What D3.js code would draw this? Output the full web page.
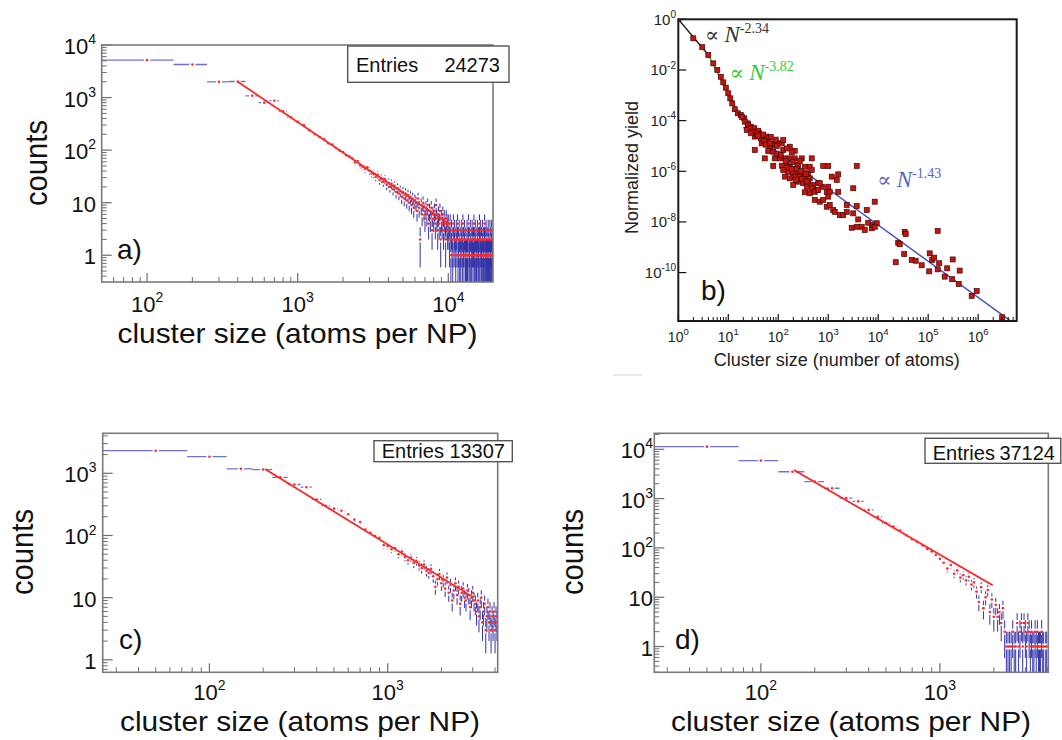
<!DOCTYPE html>
<html>
<head>
<meta charset="utf-8">
<script src="https://cdn.jsdelivr.net/npm/d3@7"></script>
<style>
  body { margin: 0; background: #fff; }
  svg { display: block; }
</style>
</head>
<body>
<script>
// ---------- data ----------

// panel a: linear bins of 100 atoms starting at 50
const countsA = [5150,4260,1990,2020,1080,800,870,550,420,345,
  300,238,200,178,160,135,128,110,98,92,
  80,76,70,58,62,51,48,44,47,40,
  36,35,31,34,27,29,25,28,22,24,
  20,23,18,21,16,19,15,17,13,16,
  12,15,11,14,10,13,9,12,8,11,
  10,7,12,8,2,9,6,10,7,5,
  8,6,9,4,7,5,8,3,6,5,
  7,4,9,5,3,6,4,7,2,5,
  4,6,3,5,4,2,5,4,3,4,
  3,2,4,1,3,2,1,4,2,3, 2,1,3,2,4,1,2,3,1,2, 1,3,2,1,4,2,1,3,2,1,
  2,1,3,1,2,4,1,2,1,3, 1,2,1,3,2,1,2,4,1,2, 3,1,2,1,1,3,2,1,2,1,
  4,1,2,3,1,2,1,1,3,2, 1,2,1,4,1,2,1,3,1,2, 1,1,2,3,1,2,1,1,3,1,
  2,1,1,3,2,1,1,2,3]
const fitA = [[400, 2000], [9800, 4.2]]

// panel c: bins of 50 atoms starting at 25
const countsC = [2310,1850,1180,1150,860,660,600,380,300,270,
  250,220,180,165,125,110,98,92,70,68,
  60,63,50,55,45,40,44,36,39,33,
  30,34,27,25,29,22,15,20,24,17,
  19,14,21,12,16,9,13,17,11,15,
  8,12,14,10,9,13,11,7,10,12,
  9,8,6,9,5,7,10,4,6,8,
  3,5,7,4,6,3,5,4,6,3,
  5,4]
const fitC = [[205, 1170], [3030, 10.1]]

// panel d: bins of 50 atoms starting at 25
const countsD = [11300,5900,3500,2210,1620,1020,880,590,425,320,
  270,225,180,150,132,112,95,85,72,60,
  50,38,45,30,35,25,28,22,26,18,
  20,13,8,16,6,10,14,5,9,4,
  7,4,5,3,6,2,1,1,1,1,
  2,1,1,3,1,2,3,1,3,2,
  1,3,2,1,2,1,1,2,1,2,
  1,1,1,2,1,1,0,1,1]
const fitD = [[153, 3800], [1970, 17.5]]

const entries = {a: "24273", c: "13307", d: "37124"}

// panel b: [log10 N, log10 yield]
const yieldPts = [[0,0],[0.30,-0.75],[0.48,-1.10],[0.60,-1.41],[0.70,-1.74],[0.78,-2.00],[0.85,-2.27],
  [0.90,-2.49],[0.95,-2.70],[1.00,-2.92],[1.04,-3.12],[1.08,-3.32],[1.13,-3.55],[1.19,-3.71],
  [1.25,-3.78],[1.32,-3.91],[1.39,-4.11],[1.45,-4.24],[1.52,-4.30],[1.59,-4.44],[1.39,-4.30],[1.62,-4.50],
  [1.27,-3.85],[1.33,-4.04],[1.40,-4.17],[1.43,-4.30],[1.37,-4.37],[1.50,-4.44],[1.60,-4.40],
  [1.63,-4.57],[1.53,-4.63],[1.70,-4.70],[1.77,-4.63],[1.80,-4.83],[1.67,-4.90],[1.87,-4.96],
  [1.93,-4.90],[2.00,-4.90],[2.07,-4.90],[2.10,-4.77],[2.23,-5.03],[1.53,-5.16],[1.83,-5.09],
  [1.90,-5.23],[2.10,-5.16],[2.33,-5.19],[1.73,-5.49],[1.93,-5.49],[2.03,-5.49],[2.13,-5.49],
  [2.23,-5.49],[2.33,-5.49],[2.47,-5.49],[2.67,-5.49],[1.90,-5.79],[2.07,-5.78],[2.17,-5.68],
  [2.23,-5.82],[2.30,-5.62],[2.40,-5.75],[2.53,-5.82],[2.63,-5.82],[2.90,-5.79],[3.00,-5.79],
  [3.57,-5.79],[2.10,-5.95],[2.20,-6.02],[2.30,-6.08],[2.40,-6.02],[2.50,-6.08],[2.60,-6.08],
  [2.67,-5.95],[2.13,-6.21],[2.23,-6.28],[2.33,-6.21],[2.43,-6.21],[2.53,-6.28],[2.63,-6.28],
  [2.30,-6.54],[2.40,-6.41],[2.50,-6.47],[2.60,-6.41],[2.70,-6.54],[2.80,-6.47],[2.87,-6.61],
  [2.67,-6.67],[2.77,-6.74],[3.07,-6.21],[3.20,-6.12],[3.17,-6.34],[3.00,-6.61],[3.50,-6.67],
  [2.53,-6.83],[2.63,-6.87],[2.97,-6.81],[3.20,-6.81],[2.57,-6.61],[2.83,-6.47],[2.73,-6.81],
  [2.80,-6.74],[3.03,-6.81],[2.73,-7.13],[2.83,-7.20],[2.90,-7.13],[3.00,-7.00],[2.97,-7.40],
  [3.03,-7.33],[3.10,-7.53],[3.13,-7.60],[3.23,-7.73],[3.30,-7.73],[3.37,-7.60],[3.37,-7.33],
  [3.57,-7.37],[3.50,-7.66],[3.77,-7.53],[3.93,-7.20],[3.60,-7.90],[3.47,-8.23],[3.57,-8.19],
  [3.67,-8.19],[3.73,-8.32],[3.80,-8.03],[3.87,-8.25],[3.90,-8.12],[3.97,-8.05],[3.93,-8.19],
  [1.45,-4.50],[1.57,-4.52],[1.65,-4.70],[1.72,-4.80],[1.75,-4.95],[1.83,-4.90],[1.97,-5.00],
  [1.80,-5.20],[1.97,-5.30],[2.05,-5.35],[2.15,-5.60],[2.20,-5.85],[2.27,-5.90],[2.37,-5.90],
  [2.45,-6.00],[2.55,-6.10],[2.47,-6.30],[2.35,-6.35],[2.57,-6.40],[2.43,-5.60],[2.27,-5.25],
  [2.17,-5.10],[1.95,-4.75],[1.85,-4.65],[1.60,-4.60],[1.70,-4.55],
  [4.53,-8.39],[4.55,-8.48],[5.19,-8.35],[4.40,-8.82],[4.43,-8.88],[4.52,-9.27],[4.35,-9.59],
  [4.67,-9.50],[4.75,-9.53],[4.87,-9.71],[5.02,-9.95],[5.03,-9.24],[5.08,-9.50],[5.12,-9.41],
  [5.22,-9.63],[5.19,-9.87],[5.38,-9.83],[5.49,-9.48],[5.63,-9.92],[5.33,-10.16],[5.48,-10.26],
  [5.61,-10.45],[5.87,-10.92],[5.97,-10.73],[6.48,-11.76]]
const fitB1 = [[1, 1], [4, 0.039]]
const fitB2 = [[4, 0.039], [15.8, 2.04e-4]]
const fitB3 = [[20, 5.4e-5], [4.3e6, 1.3e-12]]

// ---------- drawing ----------
const W = 1062, H = 740
const sans = "Liberation Sans, Arial, Helvetica, sans-serif"
const serif = "Liberation Serif, DejaVu Serif, Times New Roman, serif"

const svg = d3.select("body").append("svg")
  .attr("width", W).attr("height", H)
  .attr("font-family", sans)
svg.append("rect").attr("width", W).attr("height", H).attr("fill", "#fff")

function logTicks(dom) {
  const major = [], minor = []
  const lo = Math.floor(Math.log10(dom[0])), hi = Math.ceil(Math.log10(dom[1]))
  for (let e = lo; e <= hi; e++) {
    for (let k = 1; k < 10; k++) {
      const v = k * Math.pow(10, e)
      if (v >= dom[0] * 0.999 && v <= dom[1] * 1.001) (k === 1 ? major : minor).push(v)
    }
  }
  return {major, minor}
}

function powLabel(sel, v, fs, sfs, always) {
  const e = Math.round(Math.log10(v))
  if (!always && e === 0) sel.text("1")
  else if (!always && e === 1) sel.text("10")
  else {
    sel.append("tspan").text("10")
    sel.append("tspan").attr("dy", -fs * 0.45).attr("font-size", sfs).text(e)
  }
}

function drawHist(p) {
  const [x0, y0, x1, y1] = p.box
  const x = d3.scaleLog().domain(p.xd).range([x0, x1])
  const y = d3.scaleLog().domain(p.yd).range([y1, y0])
  const g = svg.append("g")

  svg.append("clipPath").attr("id", "clip" + p.name)
    .append("rect").attr("x", x0).attr("y", y0).attr("width", x1 - x0).attr("height", y1 - y0)

  const bins = p.counts.map((c, i) => ({
    lo: p.bin0 + i * p.bw, hi: p.bin0 + (i + 1) * p.bw, mid: p.bin0 + (i + 0.5) * p.bw, c: c
  })).filter(b => b.c > 0)

  const gap = 3
  const hsegs = [], vsegs = []
  bins.forEach(b => {
    const xm = x(b.mid), ym = y(b.c), e = Math.sqrt(b.c)
    if (xm - gap > x(b.lo)) hsegs.push([x(b.lo), xm - gap, ym])
    if (x(b.hi) > xm + gap) hsegs.push([xm + gap, x(b.hi), ym])
    const yt = y(b.c + e)
    const yb = b.c - e > 0 ? y(b.c - e) : y1 + 5
    if (ym - gap > yt) vsegs.push([xm, yt, ym - gap])
    if (yb > ym + gap) vsegs.push([xm, ym + gap, yb])
  })

  const dg = g.append("g").attr("clip-path", "url(#clip" + p.name + ")")
  dg.selectAll("line.h").data(hsegs).enter().append("line")
    .attr("x1", d => d[0]).attr("x2", d => d[1]).attr("y1", d => d[2]).attr("y2", d => d[2])
    .attr("stroke", "#7070d6").attr("stroke-width", 1.3)
  dg.selectAll("line.v").data(vsegs).enter().append("line")
    .attr("x1", d => d[0]).attr("x2", d => d[0]).attr("y1", d => d[1]).attr("y2", d => d[2])
    .attr("stroke", "#3232a8").attr("stroke-width", 1)
  dg.append("path")
    .attr("d", d3.line().x(d => x(d[0])).y(d => y(d[1]))(p.fit))
    .attr("fill", "none").attr("stroke", "#ff1e1e").attr("stroke-width", 1.7)
  dg.selectAll("circle").data(bins).enter().append("circle")
    .attr("cx", d => x(d.mid)).attr("cy", d => y(d.c)).attr("r", 1.3)
    .attr("fill", "#ff2a2a")

  // frame + ticks
  const tk = "#6e6e6e"
  const yt = logTicks(p.yd), xt = logTicks(p.xd)
  g.selectAll("line.ymaj").data(yt.major).enter().append("line")
    .attr("x1", x0).attr("x2", x0 + 10).attr("y1", d => y(d)).attr("y2", d => y(d))
    .attr("stroke", tk).attr("stroke-width", 1.2)
  g.selectAll("line.ymin").data(yt.minor).enter().append("line")
    .attr("x1", x0).attr("x2", x0 + 5).attr("y1", d => y(d)).attr("y2", d => y(d))
    .attr("stroke", tk).attr("stroke-width", 1)
  g.selectAll("line.xmaj").data(xt.major).enter().append("line")
    .attr("x1", d => x(d)).attr("x2", d => x(d)).attr("y1", y1).attr("y2", y1 - 9)
    .attr("stroke", tk).attr("stroke-width", 1.2)
  g.selectAll("line.xmin").data(xt.minor).enter().append("line")
    .attr("x1", d => x(d)).attr("x2", d => x(d)).attr("y1", y1).attr("y2", y1 - 5)
    .attr("stroke", tk).attr("stroke-width", 1)
  g.append("rect").attr("x", x0).attr("y", y0).attr("width", x1 - x0).attr("height", y1 - y0)
    .attr("fill", "none").attr("stroke", "#7a7a7a").attr("stroke-width", 1.6)

  // tick labels
  yt.major.forEach(v => {
    const t = g.append("text").attr("x", p.yLabX).attr("y", y(v) + 9)
      .attr("text-anchor", "end").attr("font-size", 22).attr("fill", "#111")
    powLabel(t, v, 22, 14, false)
  })
  xt.major.forEach(v => {
    const t = g.append("text").attr("x", x(v)).attr("y", p.xLabY)
      .attr("text-anchor", "middle").attr("font-size", 22).attr("fill", "#111")
    powLabel(t, v, 22, 14, false)
  })

  // titles
  g.append("text").attr("x", p.xTitle[0]).attr("y", p.xTitle[1])
    .attr("text-anchor", "middle").attr("font-size", 28)
    .attr("textLength", 360).attr("lengthAdjust", "spacingAndGlyphs")
    .attr("fill", "#111").text("cluster size (atoms per NP)")
  g.append("text").attr("transform", `translate(${p.yTitle[0]},${p.yTitle[1]}) rotate(-90)`)
    .attr("text-anchor", "middle").attr("font-size", 32)
    .attr("textLength", 86).attr("lengthAdjust", "spacingAndGlyphs")
    .attr("fill", "#111").text("counts")

  // entries box
  const eb = p.ebox
  g.append("rect").attr("x", eb[0]).attr("y", eb[1]).attr("width", eb[2] - eb[0]).attr("height", eb[3] - eb[1])
    .attr("fill", "#fff").attr("stroke", "#555").attr("stroke-width", 1.4)
  g.append("text").attr("x", p.eText[0]).attr("y", p.eText[2]).attr("font-size", 20)
    .attr("fill", "#111").text("Entries")
  g.append("text").attr("x", p.eText[1]).attr("y", p.eText[2]).attr("font-size", 20)
    .attr("text-anchor", "end").attr("fill", "#111").text(entries[p.name])

  g.append("text").attr("x", p.tag[0]).attr("y", p.tag[1]).attr("font-size", 28)
    .attr("fill", "#111").text(p.name + ")")
}

drawHist({name: "a", counts: countsA, bin0: 50, bw: 100, fit: fitA,
  box: [101.7, 45, 493, 282], xd: [50, 19800], yd: [0.31, 1e4],
  yLabX: 96, xLabY: 312, xTitle: [297.5, 342.5], yTitle: [47, 163],
  ebox: [347.7, 46, 509, 82.3], eText: [356, 500, 71.5], tag: [117, 259]})

drawHist({name: "c", counts: countsC, bin0: 25, bw: 50, fit: fitC,
  box: [102.7, 433.3, 497.7, 672.3], xd: [25.2, 4140], yd: [0.63, 4400],
  yLabX: 96.5, xLabY: 699.5, xTitle: [300, 730.5], yTitle: [33, 552],
  ebox: [374, 440.7, 512.3, 461.7], eText: [381.7, 505, 457.5], tag: [119, 649]})

drawHist({name: "d", counts: countsD, bin0: 25, bw: 50, fit: fitD,
  box: [654.3, 433.3, 1048.3, 672.3], xd: [25.4, 4030], yd: [0.30, 21100],
  yLabX: 653, xLabY: 699.5, xTitle: [851, 730.5], yTitle: [583, 552],
  ebox: [925, 438.3, 1060.8, 463.3], eText: [932.7, 1055, 459.5], tag: [675, 649]})

// ---------- panel b ----------
function drawYield() {
  const x0 = 678.3, y0 = 19.3, x1 = 1016.7, y1 = 321
  const x = d3.scaleLog().domain([1, 5.9e6]).range([x0, x1])
  const y = d3.scaleLog().domain([1.23e-12, 1]).range([y1, y0])
  const g = svg.append("g")

  svg.append("clipPath").attr("id", "clipb")
    .append("rect").attr("x", x0).attr("y", y0).attr("width", x1 - x0).attr("height", y1 - y0)
  const dg = g.append("g").attr("clip-path", "url(#clipb)")

  const line = d3.line().x(d => x(d[0])).y(d => y(d[1]))
  dg.append("path").attr("d", line(fitB3)).attr("fill", "none").attr("stroke", "#4a56c0").attr("stroke-width", 1.5)
  dg.append("path").attr("d", line(fitB1)).attr("fill", "none").attr("stroke", "#222").attr("stroke-width", 1.5)
  dg.append("path").attr("d", line(fitB2)).attr("fill", "none").attr("stroke", "#22b830").attr("stroke-width", 1.5)

  const s = 5
  dg.selectAll("rect.pt").data(yieldPts).enter().append("rect")
    .attr("x", d => x(Math.pow(10, d[0])) - s / 2).attr("y", d => y(Math.pow(10, d[1])) - s / 2)
    .attr("width", s).attr("height", s)
    .attr("fill", "#c8140f").attr("stroke", "#3a0a08").attr("stroke-width", 0.7)

  // ticks
  const xt = logTicks([1, 5.9e6])
  g.selectAll("line.xmaj").data(xt.major).enter().append("line")
    .attr("x1", d => x(d)).attr("x2", d => x(d)).attr("y1", y1).attr("y2", y1 - 7)
    .attr("stroke", "#111").attr("stroke-width", 1.2)
  g.selectAll("line.xmin").data(xt.minor).enter().append("line")
    .attr("x1", d => x(d)).attr("x2", d => x(d)).attr("y1", y1).attr("y2", y1 - 4)
    .attr("stroke", "#111").attr("stroke-width", 1)
  const yMaj = [1, 1e-2, 1e-4, 1e-6, 1e-8, 1e-10]
  g.selectAll("line.ymaj").data(yMaj).enter().append("line")
    .attr("x1", x0).attr("x2", x0 + 8).attr("y1", d => y(d)).attr("y2", d => y(d))
    .attr("stroke", "#111").attr("stroke-width", 1.2)
  g.append("rect").attr("x", x0).attr("y", y0).attr("width", x1 - x0).attr("height", y1 - y0)
    .attr("fill", "none").attr("stroke", "#1a1a1a").attr("stroke-width", 2)

  yMaj.forEach(v => {
    const t = g.append("text").attr("x", 676).attr("y", y(v) + 5.5)
      .attr("text-anchor", "end").attr("font-size", 15).attr("fill", "#222")
    powLabel(t, v, 15, 10, true)
  })
  xt.major.forEach(v => {
    const t = g.append("text").attr("x", x(v)).attr("y", 341.5)
      .attr("text-anchor", "middle").attr("font-size", 14).attr("fill", "#222")
    powLabel(t, v, 14, 9.5, true)
  })

  g.append("text").attr("x", 836.7).attr("y", 366).attr("text-anchor", "middle")
    .attr("font-size", 18).attr("fill", "#222").text("Cluster size (number of atoms)")
  g.append("text").attr("transform", "translate(638,167.5) rotate(-90)").attr("text-anchor", "middle")
    .attr("font-size", 18).attr("fill", "#222").text("Normalized yield")

  // power-law annotations
  const ann = [
    {x: 705, y: 41.7, exp: "-2.34", color: "#333"},
    {x: 729.7, y: 80, exp: "-3.82", color: "#2fcc2f"},
    {x: 877.3, y: 186.7, exp: "-1.43", color: "#5563c8"}
  ]
  ann.forEach(a => {
    const t = g.append("text").attr("x", a.x).attr("y", a.y).attr("font-family", serif).attr("fill", a.color)
    t.append("tspan").attr("font-size", 21).text("\u221D ")
    t.append("tspan").attr("font-size", 23).attr("font-style", "italic").text("N")
    t.append("tspan").attr("font-size", 14).attr("dy", -9).text(a.exp)
  })

  g.append("text").attr("x", 701).attr("y", 300).attr("font-size", 28).attr("fill", "#111").text("b)")
}
drawYield()

svg.append("line").attr("x1", 613).attr("x2", 642).attr("y1", 375).attr("y2", 375)
  .attr("stroke", "#e2e2e2").attr("stroke-width", 1.5)
</script>
</body>
</html>
